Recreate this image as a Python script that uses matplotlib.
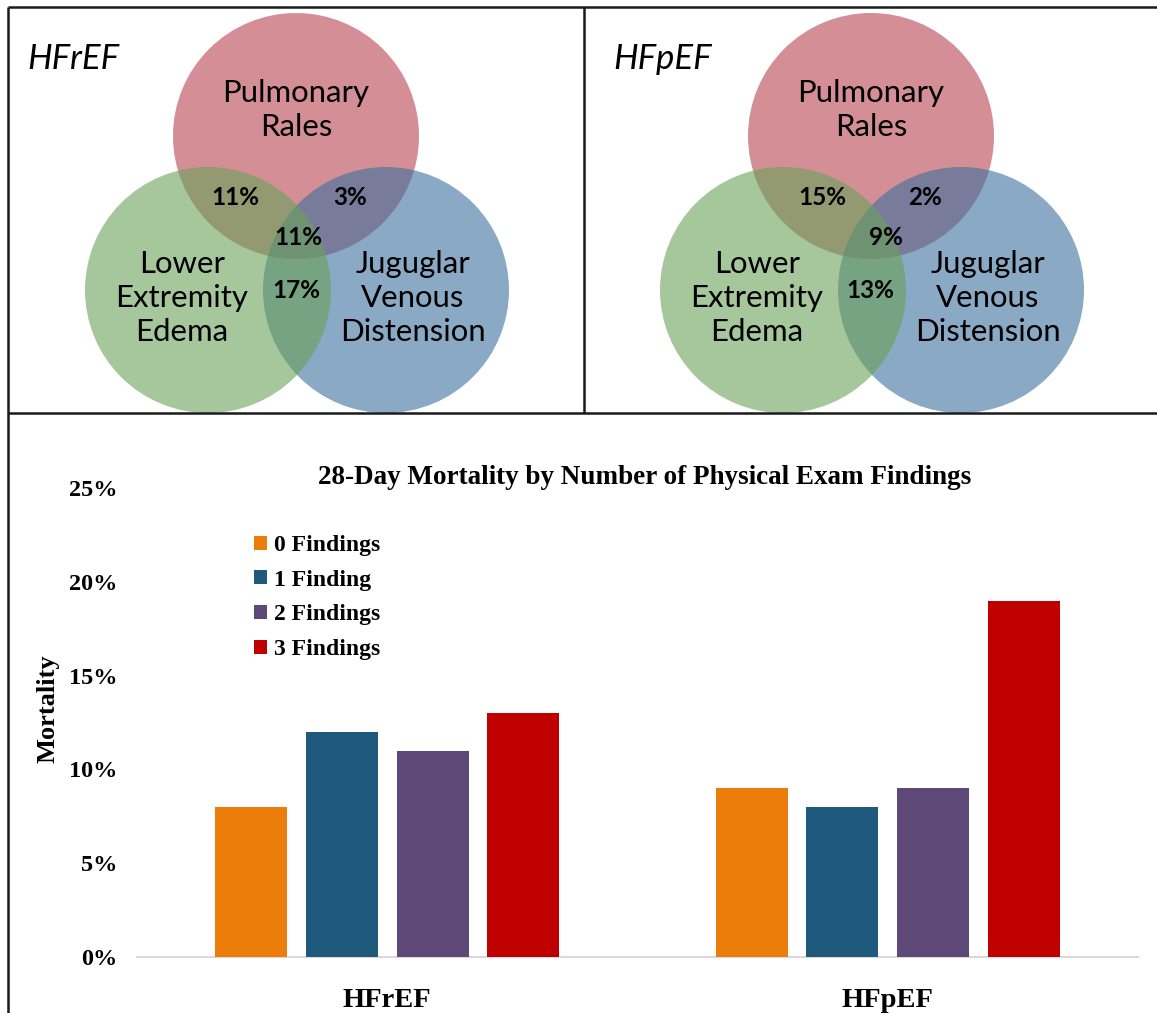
import matplotlib
matplotlib.use("Agg")
import matplotlib.pyplot as plt
import numpy as np
from matplotlib.patches import Circle

W, H = 1157, 1013

# Venn data: overlaps in order PR+LEE, PR+JVD, all three, LEE+JVD
set_names = ["Pulmonary\nRales", "Lower\nExtremity\nEdema", "Juguglar\nVenous\nDistension"]
hfref_overlaps = [11, 3, 11, 17]
hfpef_overlaps = [15, 2, 9, 13]

# bar data
groups = ["HFrEF", "HFpEF"]
series = ["0 Findings", "1 Finding", "2 Findings", "3 Findings"]
zero_findings = [8, 9]
one_finding = [12, 8]
two_findings = [11, 9]
three_findings = [13, 19]
bar_colors = ["#ED7D0B", "#1F5A7D", "#5E4878", "#C00000"]

circle_colors = ["#B64350", "#3C719D", "#69A258"]  # red, blue, green (green on top)

fig = plt.figure(figsize=(W / 100, H / 100), dpi=100)

# ---- bar chart ----
x0, x1, y0, y25 = 137, 1138, 957, 488
ax = fig.add_axes([x0 / W, 1 - y0 / H, (x1 - x0) / W, (y0 - y25) / H])
x = np.arange(len(groups))
step = 0.181
bw = 0.144
for i, (name, vals, c) in enumerate(zip(series,
                                        [zero_findings, one_finding, two_findings, three_findings],
                                        bar_colors)):
    ax.bar(x + (i - 1.5) * step, vals, bw, color=c, label=name, zorder=3)
ax.set_xlim(-0.5, 1.5)
ax.set_ylim(0, 25)
ax.set_yticks(range(0, 26, 5))
ax.set_yticklabels([f"{v}%" for v in range(0, 26, 5)])
ax.set_xticks(x)
ax.set_xticklabels(groups)
for s in ("top", "right", "left"):
    ax.spines[s].set_visible(False)
ax.spines["bottom"].set_color("#d9d9d9")
ax.spines["bottom"].set_linewidth(1.5)
ax.tick_params(length=0)
ax.tick_params(axis="y", pad=14)
ax.tick_params(axis="x", pad=22)
for lab in ax.get_yticklabels():
    lab.set_fontfamily("Liberation Serif")
    lab.set_fontweight("bold")
    lab.set_fontsize(17.5)
for lab in ax.get_xticklabels():
    lab.set_fontfamily("Liberation Serif")
    lab.set_fontweight("bold")
    lab.set_fontsize(20.5)
ax.set_ylabel("Mortality", fontfamily="Liberation Serif", fontweight="bold", fontsize=19)
ax.yaxis.set_label_coords((60 - x0) / (x1 - x0), 0.53)
ax.text(0.507, (y0 - 478) / (y0 - y25), "28-Day Mortality by Number of Physical Exam Findings",
        transform=ax.transAxes, ha="center", va="center",
        fontfamily="Liberation Serif", fontweight="bold", fontsize=19.5)
leg = ax.legend(loc="upper left", bbox_to_anchor=(254 / W, 1 - 535 / H),
                bbox_transform=fig.transFigure, frameon=False,
                prop={"family": "Liberation Serif", "weight": "bold", "size": 17},
                handlelength=0.55, handleheight=0.55, handletextpad=0.3,
                labelspacing=0.58, borderpad=0, borderaxespad=0)

# ---- venn panels + frame, drawn in pixel coordinates ----
ov = fig.add_axes([0, 0, 1, 1])
ov.set_xlim(0, W)
ov.set_ylim(H, 0)
ov.axis("off")
ov.patch.set_alpha(0)

frame_kw = dict(color="#1a1a1a", lw=1.8, solid_capstyle="butt")
ov.plot([8, W], [7, 7], **frame_kw)
ov.plot([8, 8], [7, H], **frame_kw)
ov.plot([584, 584], [7, 413], **frame_kw)
ov.plot([8, W], [413, 413], **frame_kw)

r = 123
centers = [(296, 136), (386, 290), (208, 290)]  # red, blue, green
name_pos = [(296, 110), (182, 298), (413, 298)]
panels = [
    ("HFrEF", 0, hfref_overlaps, [(235, 197), (350, 197), (298, 237), (296, 290)]),
    ("HFpEF", 575, hfpef_overlaps, [(822, 197), (925, 197), (886, 237), (870, 290)]),
]
for title, dx, overlaps, pct_pos in panels:
    for (cx, cy), c in zip(centers, circle_colors):
        ov.add_patch(Circle((cx + dx, cy), r, facecolor=c, edgecolor="none", alpha=0.6))
    for name, (tx, ty) in zip(set_names, name_pos):
        ov.text(tx + dx, ty, name, ha="center", va="center", fontfamily="Lato",
                fontsize=22.4, linespacing=1.28, color="black")
    for v, (tx, ty) in zip(overlaps, pct_pos):
        ov.text(tx, ty, f"{v}%", ha="center", va="center", fontfamily="Lato",
                fontweight="bold", fontsize=17.5, color="black")
    ov.text(27 + dx * 1.02, 59, title, ha="left", va="center", fontfamily="Lato",
            fontstyle="italic", fontsize=25, color="black")

fig.savefig("out.png", dpi=100)
